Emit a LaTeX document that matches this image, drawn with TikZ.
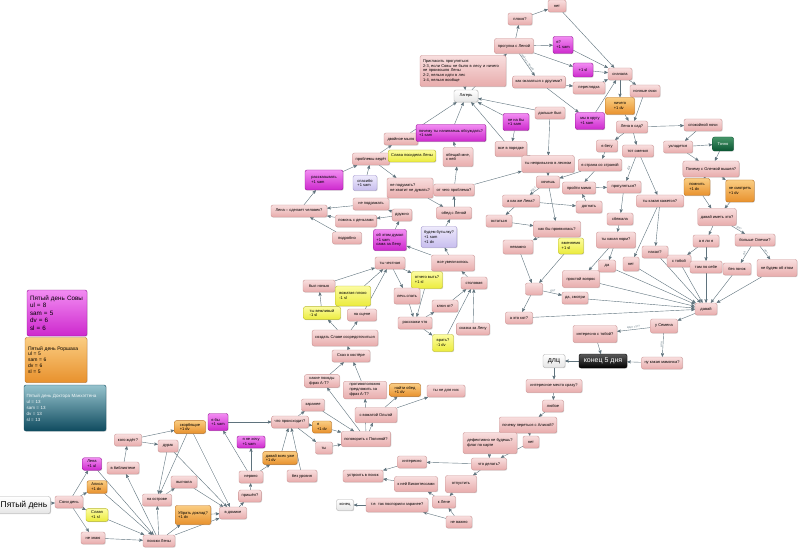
\documentclass[tikz,border=0pt]{standalone}
\usepackage{fontspec}
\setmainfont{Liberation Sans}
\usepackage{tikz}
\usetikzlibrary{arrows}
\usetikzlibrary{shadows}

\definecolor{pinkT}{RGB}{248,222,222}
\definecolor{pinkB}{RGB}{232,172,172}
\definecolor{pinkD}{RGB}{205,150,150}
\definecolor{mgT}{RGB}{242,140,242}
\definecolor{mgB}{RGB}{205,40,205}
\definecolor{mgD}{RGB}{150,20,150}
\definecolor{orT}{RGB}{250,205,130}
\definecolor{orB}{RGB}{232,145,45}
\definecolor{orD}{RGB}{185,110,30}
\definecolor{ylT}{RGB}{252,252,160}
\definecolor{ylB}{RGB}{235,235,60}
\definecolor{ylD}{RGB}{185,185,40}
\definecolor{lvT}{RGB}{238,234,252}
\definecolor{lvB}{RGB}{200,190,238}
\definecolor{lvD}{RGB}{160,150,205}
\definecolor{gnT}{RGB}{70,150,105}
\definecolor{gnB}{RGB}{10,85,50}
\definecolor{tlT}{RGB}{150,195,205}
\definecolor{tlB}{RGB}{15,75,95}
\definecolor{edgeC}{RGB}{95,115,125}
\definecolor{lblC}{RGB}{110,130,140}

\pgfdeclarelayer{bg}
\pgfsetlayers{bg,main}

\tikzset{
	box/.style={rounded corners=2pt, draw, line width=0.4pt, align=left, inner xsep=3pt, inner ysep=2.5pt,
		minimum height=12pt, font=\fontsize{4}{4.8}\selectfont,
		drop shadow={shadow xshift=0.7pt, shadow yshift=-0.7pt, opacity=0.3}},
	pk/.style={box, draw=pinkD, top color=pinkT, bottom color=pinkB},
	mg/.style={box, draw=mgD, top color=mgT, bottom color=mgB},
	org/.style={box, draw=orD, top color=orT, bottom color=orB},
	ylw/.style={box, draw=ylD, top color=ylT, bottom color=ylB},
	lav/.style={box, draw=lvD, top color=lvT, bottom color=lvB},
	grn/.style={box, draw=gnB, top color=gnT, bottom color=gnB, text=white},
	tl/.style={box, draw=tlB, top color=tlT, bottom color=tlB, text=white!90!tlT},
	wht/.style={box, draw=black!30, top color=white, bottom color=black!10, align=center},
	blk/.style={box, draw=black, top color=black!65, bottom color=black, text=white, align=center},
	wd/.style={minimum width=#1pt},
	ed/.style={->, >=stealth', draw=edgeC, line width=0.4pt},
	lbl/.style={font=\fontsize{3}{3.5}\selectfont, text=lblC, inner sep=0.5pt, sloped, above}
}

\begin{document}
\begin{tikzpicture}[x=1pt, y=-1pt]
	\useasboundingbox (0,0) rectangle (800,548);
	\begin{pgfonlayer}{bg}
		\fill[white] (0,0) rectangle (800,548);
	\end{pgfonlayer}

	% legend
	\node[mg, minimum height=46pt, text width=54pt, font=\fontsize{6.3}{7.4}\selectfont] (sovy) at (57,313) {Пятый день Совы\\ul = 8\\sam = 5\\dv = 6\\sl = 6};
	\node[org, minimum height=45pt, text width=56pt, font=\fontsize{5}{5.9}\selectfont] (rorsh) at (56,360) {Пятый день Роршаха\\ul = 5\\sam = 6\\dv = 6\\sl = 5};
	\node[tl, minimum height=46pt, text width=77pt, inner xsep=2.5pt, font=\fontsize{4.5}{5.9}\selectfont] (manh) at (65,408) {Пятый день Доктора Манхэттена\\ul = 13\\sam = 13\\dv = 13\\sl = 13};

	% start
	\node[wht, wd=48, minimum height=17pt, font=\fontsize{8.5}{10}\selectfont] (den) at (24,505) {Пятый день};
	\node[pk, wd=28] (soni) at (69,502) {Сони день};
	\node[mg, wd=19] (lenaA) at (92,464) {Лена\\+1 ul};
	\node[org, wd=20] (alisa) at (97,487) {Алиса\\+1 dv};
	\node[ylw, wd=22] (slavya) at (97,515) {Славя\\+1 sl};
	\node[pk, wd=24] (neznayu) at (93,538) {не знаю};
	\node[pk, wd=32] (biblio) at (123,468) {в библиотеке};
	\node[pk, wd=27] (kogo) at (128,440) {кого ждёт?};
	\node[pk, wd=20] (durak) at (168,446) {дурак};
	\node[org, wd=31] (skorb) at (190,427) {скорбящие\\+1 dv};
	\node[pk, wd=26] (vygnala) at (184,482) {выгнала};
	\node[pk, wd=29] (ostrov) at (157,500) {на острове};
	\node[org, wd=33, minimum height=19pt] (ubrat) at (193,515) {Убрать доклад?\\+1 dv};
	\node[pk, wd=27] (domik) at (233,513) {в домике};
	\node[pk, wd=32] (poiski) at (159,541) {поиски Лены};
	\node[pk, wd=21] (prishel) at (250,496) {пришёл?};
	\node[pk, wd=24] (nervno) at (251,477) {нервно};
	\node[mg, wd=28] (yanehochu) at (251,442) {я не хочу\\+1 sam};
	\node[mg, wd=20, minimum height=17pt] (yaby) at (218,422) {я бы\\+1 sam};
	\node[org, wd=33] (davaydv) at (280,458) {давай всех уже\\+1 dv};
	\node[pk, wd=33] (chto) at (290,422) {что происходит?};
	\node[pk, wd=30] (bezur) at (302,476) {без уровня};
	\node[pk, wd=23] (zaranee) at (313,405) {заранее};
	\node[org, wd=19] (yadv) at (322,427) {я\\+1 dv};
	\node[pk, wd=17] (ty) at (324,448) {ты};
	\node[pk, wd=48, minimum height=15pt] (pogovor) at (366,439) {поговорить с Полиной?};
	\node[pk, wd=42, minimum height=15pt] (svozh) at (376,415) {с вожатой Ольгой};
	\node[pk, wd=35] (kakie) at (322,381) {какие походы\\фраз А-Т?};
	\node[pk, wd=43] (protiv) at (365,390) {противоположно\\предложить за\\фраз А-Т?};
	\node[org, wd=31] (nayti) at (405,390) {найти обед\\+1 dv};
	\node[pk, wd=38] (tyne) at (446,391) {ты не для них};
	\node[pk, wd=38] (skaz) at (351,356) {Сказ о костёре};
	\node[pk, wd=61, minimum height=16pt] (sozdat) at (345,338) {создать Славе сосредоточиться};
	\node[ylw, wd=37] (tyvezh) at (322,313) {ты вежливый\\-1 sl};
	\node[pk, wd=29] (nascene) at (362,315) {на сцене};
	\node[pk, wd=32] (tyhoch) at (319,286) {был ночью};
	\node[ylw, wd=35, minimum height=20pt] (vozh) at (353,296) {вожатая плохо\\-1 sl};
	\node[pk, wd=30] (tychest) at (390,263) {ты честная};
	\node[ylw, wd=31, minimum height=17pt] (otchego) at (427,280) {отчего выть?\\+1 sl};
	\node[pk, wd=25, minimum height=16pt] (lech) at (407,296) {лечь спать};
	\node[pk, wd=34] (rassk) at (415,323) {расскажи что};
	\node[pk, wd=26] (klyuch) at (445,306) {ключ от?};
	\node[pk, wd=26] (stol) at (474,283) {столовая};
	\node[pk, wd=33] (skazlena) at (473,329) {сказка за Лену};
	\node[ylw, wd=21, minimum height=17pt] (vrat) at (443,343) {врать?\\-1 dv};
	\node[pk, wd=43, minimum height=16pt] (vse) at (453,263) {все увеличилось};
	\node[mg, wd=33, minimum height=21pt] (obetom) at (390,240) {об этом думал\\+1 sam\\сама за Лену};
	\node[lav, wd=35, minimum height=21pt] (budem) at (439,237) {будем бутылку?\\+1 sam\\+1 dv};
	\node[pk, wd=16] (dashki) at (402,215) {дружно};
	\node[pk, wd=37] (pomoch) at (356,221) {помочь с деньгами};
	\node[pk, wd=36] (nepodr) at (371,204) {не подражать};
	\node[pk, wd=56] (lenachel) at (299,211) {Лена -- сделает человек?};
	\node[pk, wd=29] (podrob) at (347,238) {подробно};
	\node[mg, wd=38, minimum height=20pt] (rasskaz) at (324,180) {рассказывать\\+1 sam};
	\node[lav, wd=24, minimum height=15pt] (spasibo) at (365,183) {спасибо\\+1 sam};
	\node[pk, wd=37] (problemy) at (371,159) {проблемы ведёт};
	\node[pk, wd=46, minimum height=20pt] (nepodum) at (410,188) {не подумать?\\не хватит не думать?};
	\node[pk, wd=32] (otchprob) at (454,190) {от чего проблема?};
	\node[pk, wd=35] (obed) at (454,213) {обед с Леной};
	\node[pk, wd=34] (dvoinoe) at (401,139) {двойное мыло};
	\node[ylw, wd=35] (slavapos) at (412,156) {Слава посидела Лены};
	\node[pk, wd=30, minimum height=19pt] (obeshchay) at (458,157) {обещай мне,\\с ней};
	\node[mg, wd=51, minimum height=17pt] (pochemu) at (451,133) {почему ты начинаешь обсуждать?\\+1 sam};

	% top
	\node[wht, wd=24] (lager) at (466,96) {Лагерь};
	\node[pk, text width=80pt, minimum height=31pt] (progtext) at (463,71) {Пригласить прогуляться:\\2-3, если Совы не было в лесу и ничего не произошло Лены\\2-2, нельзя идти в лес\\1-4, нельзя вообще};
	\node[pk, wd=39, minimum height=15pt] (progulka) at (514,46) {прогулка с Леной};
	\node[pk, wd=24] (ploho) at (520,19) {плохо?};
	\node[pk, wd=18] (net1) at (557,6) {нет};
	\node[mg, wd=20, minimum height=17pt] (yamg) at (563,45) {я?\\+1 sam};
	\node[mg, wd=20, minimum height=14pt] (slmg) at (583,70) {+1 sl};
	\node[pk, wd=48] (kak) at (539,82) {как оказаться с другими?};
	\node[pk, wd=32] (perg) at (589,88) {переглядка};
	\node[pk, wd=30] (dalshe) at (550,113) {дальше был};
	\node[mg, wd=26, minimum height=17pt] (nenaby) at (516,122) {не на бы\\+1 sam};
	\node[mg, wd=29, minimum height=17pt] (myvkrugu) at (590,121) {мы в кругу\\+1 sam};
	\node[pk, wd=24] (glyan) at (620,74) {сначала};
	\node[pk, wd=30] (nochnye) at (645,91) {ночные очки};
	\node[org, wd=29, minimum height=17pt] (nichego) at (620,106) {ничего\\+1 dv};
	\node[pk, wd=31] (lenasad) at (632,127) {Лена в сад?};
	\node[pk, wd=38] (spok) at (703,125) {спокойной ночи};
	\node[pk, wd=29] (uklad) at (678,147) {укладется};
	\node[grn, wd=21, minimum height=14pt] (tochno) at (723,144) {Точно};
	\node[pk, wd=55, minimum height=16pt] (pochol) at (711,169) {Почему с Олечкой вышел?};
	\node[org, wd=26, minimum height=17pt] (pomnit) at (697,187) {помнить\\+1 dv};
	\node[org, wd=27, minimum height=22pt] (nesmotr) at (740,191) {не смотреть\\+1 dv};
	\node[pk, wd=38, minimum height=17pt] (davimet) at (717,217) {давай иметь это?};
	\node[pk, wd=26] (aya) at (706,241) {а я ли я};
	\node[pk, wd=40] (bolshe) at (755,240) {больше Олечки?};
	\node[pk, wd=26] (nahal) at (655,252) {нахал?};
	\node[pk, wd=24] (stoboy) at (679,261) {с тобой};
	\node[pk, wd=32] (tamps) at (706,267) {там по себе};
	\node[pk, wd=28] (bez) at (737,269) {без гонок};
	\node[pk, wd=40, minimum height=17pt] (nebudem) at (777,268) {не будем об этом};
	\node[pk, wd=22] (davay) at (706,309) {давай};

	% middle right
	\node[pk, wd=21] (yabegu) at (607,146) {я бегу};
	\node[pk, wd=31] (totsm) at (638,151) {тот сменил};
	\node[pk, wd=28, minimum height=15pt] (vsepor) at (511,149) {все в порядке};
	\node[pk, wd=50, minimum height=17pt] (tynepriv) at (548,164) {ты непривычно в лесном};
	\node[pk, wd=43] (yastr) at (600,165) {я страна со страной};
	\node[pk, wd=23] (hoch) at (548,182) {хочешь};
	\node[pk, wd=33] (proyti) at (579,188) {пройти мимо};
	\node[pk, wd=34] (progul) at (624,187) {прогуляться?};
	\node[pk, wd=37] (kakzhe) at (521,201) {а как же Лена?};
	\node[pk, wd=26] (dognat) at (589,207) {догнать};
	\node[pk, wd=26] (ostat) at (499,221) {остаться};
	\node[pk, wd=47, minimum height=16pt] (kakby) at (557,229) {как бы проявилась?};
	\node[pk, wd=26] (sbezh) at (620,219) {сбежала};
	\node[pk, wd=47] (tykak) at (660,201) {ты какая кажется?};
	\node[pk, wd=39, minimum height=16pt] (tynorm) at (616,240) {ты какая норм?};
	\node[pk, wd=30, minimum height=14pt] (nevazh) at (518,247) {неважно};
	\node[ylw, wd=25, minimum height=16pt] (vmen) at (571,246) {вменяемо\\+1 sl};
	\node[pk, wd=17] (da) at (607,266) {да};
	\node[pk, wd=16, minimum height=14pt] (net2) at (631,264) {нет};
	\node[pk, wd=37, minimum height=17pt] (prostoy) at (581,279) {простой вопрос};
	\node[pk, wd=17] (hub) at (534,289) {};
	\node[pk, wd=25] (dasm) at (575,298) {да, смотри};
	\node[pk, wd=27] (aetokot) at (519,318) {а это кот?};

	% end of day
	\node[pk, wd=27, minimum height=14pt] (ysem) at (664,326) {у Семена};
	\node[pk, wd=44, minimum height=17pt] (interes) at (595,334) {интересно с тобой?};
	\node[blk, wd=48, minimum height=14pt, font=\fontsize{7}{8}\selectfont] (konec) at (603,361) {конец 5 дня};
	\node[pk, wd=41] (nukak) at (662,363) {ну какая мамочка?};
	\node[wht, wd=22, minimum height=13pt, font=\fontsize{7}{8}\selectfont] (dlc) at (554,361) {длц};
	\node[pk, wd=56, minimum height=13pt] (intmesto) at (554,386) {интересное место сразу?};
	\node[pk, wd=21] (lyuboe) at (553,406) {любое};
	\node[pk, wd=57, minimum height=16pt] (pochal) at (528,425) {почему переться с Алисой?};
	\node[pk, wd=54, minimum height=21pt] (deff) at (490,443) {дефективно не будешь?\\флаг по карте};
	\node[pk, wd=16] (net3) at (531,442) {нет};
	\node[pk, wd=35] (chtodel) at (489,464) {что делать?};
	\node[pk, wd=29] (interes2) at (412,462) {интересно};
	\node[pk, wd=42, minimum height=15pt] (kney) at (416,484) {к ней Виконтессами};
	\node[pk, wd=31, minimum height=17pt] (otpust) at (461,484) {отпустить};
	\node[pk, wd=23] (klene) at (444,502) {к Лене};
	\node[pk, wd=62, minimum height=14pt] (tytak) at (397,505) {т.е. так поспорили заранее?};
	\node[wht, wd=17, minimum height=11pt] (konecw) at (345,505) {конец};
	\node[pk, wd=26] (nevazh2) at (459,522) {не важно};
	\node[pk, wd=40] (ustroit) at (363,476) {устроить в поиск};

	\begin{pgfonlayer}{bg}
	\draw[ed] (den) -- (soni);
	\draw[ed] (soni) -- (lenaA);
	\draw[ed] (soni) -- (alisa);
	\draw[ed] (soni) -- (slavya);
	\draw[ed] (soni) -- (neznayu);
	\draw[ed] (lenaA) -- (poiski);
	\draw[ed] (alisa) -- (poiski);
	\draw[ed] (slavya) -- (poiski);
	\draw[ed] (neznayu) -- (poiski);
	\draw[ed] (poiski) -- (biblio);
	\draw[ed] (poiski) -- (ostrov);
	\draw[ed] (poiski) -- (ubrat);
	\draw[ed] (poiski) -- (domik);
	\draw[ed] (biblio) -- (kogo);
	\draw[ed] (kogo) -- (skorb);
	\draw[ed] (kogo) -- (durak);
	\draw[ed] (skorb) -- (ostrov);
	\draw[ed] (skorb) -- (domik);
	\draw[ed] (durak) -- (ostrov);
	\draw[ed] (durak) -- (domik);
	\draw[ed] (ostrov) -- (vygnala);
	\draw[ed] (vygnala) -- (domik);
	\draw[ed] (ubrat) -- (domik);
	\draw[ed] (domik) -- (prishel);
	\draw[ed] (prishel) -- (nervno);
	\draw[ed] (nervno) -- (yanehochu);
	\draw[ed] (nervno) -- (yaby);
	\draw[ed] (nervno) -- (davaydv);
	\draw[ed] (yaby) -- (chto);
	\draw[ed] (davaydv) -- (chto);
	\draw[ed] (bezur) -- (chto);
	\draw[ed] (chto) -- (zaranee);
	\draw[ed] (chto) -- (yadv);
	\draw[ed] (chto) -- (ty);
	\draw[ed] (yadv) -- (pogovor);
	\draw[ed] (ty) -- (pogovor);
	\draw[ed] (zaranee) -- (pogovor);
	\draw[ed] (pogovor) -- (svozh);
	\draw[ed] (pogovor) -- (kakie);
	\draw[ed] (pogovor) -- (protiv);
	\draw[ed] (svozh) -- (nayti);
	\draw[ed] (svozh) -- (tyne);
	\draw[ed] (kakie) -- (skaz);
	\draw[ed] (protiv) -- (skaz);
	\draw[ed] (skaz) -- (sozdat);
	\draw[ed] (sozdat) -- (tyvezh);
	\draw[ed] (sozdat) -- (nascene);
	\draw[ed] (tyvezh) -- (tyhoch);
	\draw[ed] (tyhoch) -- (tychest);
	\draw[ed] (nascene) -- (tychest);
	\draw[ed] (vozh) -- (tychest);
	\draw[ed] (tychest) -- (lech);
	\draw[ed] (tychest) -- (otchego);
	\draw[ed] (lech) -- (rassk);
	\draw[ed] (otchego) -- (rassk);
	\draw[ed] (rassk) -- (klyuch);
	\draw[ed] (rassk) -- (vrat);
	\draw[ed] (klyuch) -- (stol);
	\draw[ed] (vrat) -- (stol);
	\draw[ed] (skazlena) -- (stol);
	\draw[ed] (stol) -- (vse);
	\draw[ed] (vse) -- (obetom);
	\draw[ed] (vse) -- (budem);
	\draw[ed] (obetom) -- (dashki);
	\draw[ed] (budem) -- (obed);
	\draw[ed] (dashki) -- (pomoch);
	\draw[ed] (dashki) -- (nepodr);
	\draw[ed] (pomoch) -- (lenachel);
	\draw[ed] (nepodr) -- (lenachel);
	\draw[ed] (podrob) -- (lenachel);
	\draw[ed] (lenachel) -- (rasskaz);
	\draw[ed] (rasskaz) -- (problemy);
	\draw[ed] (spasibo) -- (problemy);
	\draw[ed] (problemy) -- (dvoinoe);
	\draw[ed] (problemy) -- (nepodum);
	\draw[ed] (nepodum) -- (obed);
	\draw[ed] (obed) -- (otchprob);
	\draw[ed] (otchprob) -- (obeshchay);
	\draw[ed] (obeshchay) -- (pochemu);
	\draw[ed] (pochemu) -- (lager);
	\draw[ed] (dvoinoe) -- (lager);
	\draw[ed] (nenaby) -- (lager);
	\draw[ed] (dalshe) -- (lager);
	\draw[ed] (vsepor) -- (lager);
	\draw[ed] (progtext) -- (lager);
	\draw[ed] (lager) -- (progulka);
	\draw[ed] (progulka) -- (ploho);
	\draw[ed] (progulka) -- (yamg);
	\draw[ed] (progulka) -- (slmg);
	\draw[ed] (progulka) -- (kak) node[lbl, pos=0.45] {пойти с Леной};
	\draw[ed] (ploho) -- (net1);
	\draw[ed] (net1) -- (glyan);
	\draw[ed] (yamg) -- (glyan);
	\draw[ed] (slmg) -- (glyan);
	\draw[ed] (perg) -- (glyan);
	\draw[ed] (myvkrugu) -- (glyan);
	\draw[ed] (kak) -- (perg);
	\draw[ed] (kak) -- (myvkrugu);
	\draw[ed] (glyan) -- (nochnye);
	\draw[ed] (glyan) -- (nichego);
	\draw[ed] (nochnye) -- (lenasad);
	\draw[ed] (nichego) -- (lenasad);
	\draw[ed] (lenasad) -- (spok);
	\draw[ed] (spok) -- (uklad);
	\draw[ed] (uklad) -- (tochno);
	\draw[ed] (uklad) -- (pochol);
	\draw[ed] (tochno) -- (pochol);
	\draw[ed] (pochol) -- (pomnit);
	\draw[ed] (pochol) -- (nesmotr);
	\draw[ed] (pomnit) -- (davimet);
	\draw[ed] (nesmotr) -- (davimet);
	\draw[ed] (davimet) -- (aya);
	\draw[ed] (davimet) -- (bolshe) node[lbl, pos=0.5] {да?};
	\draw[ed] (aya) -- (stoboy);
	\draw[ed] (aya) -- (tamps);
	\draw[ed] (bolshe) -- (bez) node[lbl, pos=0.5] {да};
	\draw[ed] (bolshe) -- (nebudem) node[lbl, pos=0.5] {нет};
	\draw[ed] (nahal) -- (davay);
	\draw[ed] (stoboy) -- (davay);
	\draw[ed] (tamps) -- (davay);
	\draw[ed] (bez) -- (davay);
	\draw[ed] (nebudem) -- (davay);
	\draw[ed] (tykak) -- (nahal);
	\draw[ed] (prostoy) -- (davay);
	\draw[ed] (da) -- (davay);
	\draw[ed] (net2) -- (davay);
	\draw[ed] (dasm) -- (davay);
	\draw[ed] (aetokot) -- (davay);
	\draw[ed] (lenasad) -- (yabegu);
	\draw[ed] (lenasad) -- (totsm);
	\draw[ed] (yabegu) -- (yastr);
	\draw[ed] (totsm) -- (progul) node[lbl, pos=0.5] {Да!};
	\draw[ed] (totsm) -- (tykak);
	\draw[ed] (yastr) -- (hoch);
	\draw[ed] (yastr) -- (proyti);
	\draw[ed] (nenaby) -- (vsepor);
	\draw[ed] (vsepor) -- (tynepriv);
	\draw[ed] (dalshe) -- (tynepriv);
	\draw[ed] (otchprob) -- (tynepriv);
	\draw[ed] (tynepriv) -- (hoch);
	\draw[ed] (hoch) -- (kakzhe) node[lbl, pos=0.5] {Уф?};
	\draw[ed] (hoch) -- (kakby);
	\draw[ed] (proyti) -- (progul);
	\draw[ed] (dognat) -- (proyti);
	\draw[ed] (kakzhe) -- (dognat);
	\draw[ed] (kakzhe) -- (ostat);
	\draw[ed] (ostat) -- (kakby);
	\draw[ed] (kakby) -- (nevazh);
	\draw[ed] (progul) -- (sbezh);
	\draw[ed] (sbezh) -- (tynorm);
	\draw[ed] (tynorm) -- (prostoy);
	\draw[ed] (tynorm) -- (da);
	\draw[ed] (tykak) -- (net2);
	\draw[ed] (nevazh) -- (hub);
	\draw[ed] (vmen) -- (hub);
	\draw[ed] (hub) -- (dasm) node[lbl, pos=0.5] {да?};
	\draw[ed] (hub) -- (aetokot);
	\draw[ed] (davay) -- (ysem);
	\draw[ed] (ysem) -- (interes) node[lbl, pos=0.5] {едет тут?};
	\draw[ed] (ysem) -- (nukak) node[lbl, pos=0.5] {а он};
	\draw[ed] (interes) -- (konec);
	\draw[ed] (nukak) -- (konec);
	\draw[ed] (konec) -- (dlc);
	\draw[ed] (dlc) -- (intmesto);
	\draw[ed] (intmesto) -- (lyuboe);
	\draw[ed] (lyuboe) -- (pochal);
	\draw[ed] (pochal) -- (net3);
	\draw[ed] (pochal) -- (deff);
	\draw[ed] (net3) -- (chtodel);
	\draw[ed] (deff) -- (chtodel);
	\draw[ed] (chtodel) -- (interes2);
	\draw[ed] (chtodel) -- (otpust);
	\draw[ed] (otpust) -- (klene);
	\draw[ed] (klene) -- (kney);
	\draw[ed] (interes2) -- (ustroit);
	\draw[ed] (kney) -- (ustroit);
	\draw[ed] (nevazh2) -- (klene);
	\draw[ed] (nevazh2) -- (tytak);
	\draw[ed] (tytak) -- (konecw);
	\end{pgfonlayer}
\end{tikzpicture}
\end{document}
